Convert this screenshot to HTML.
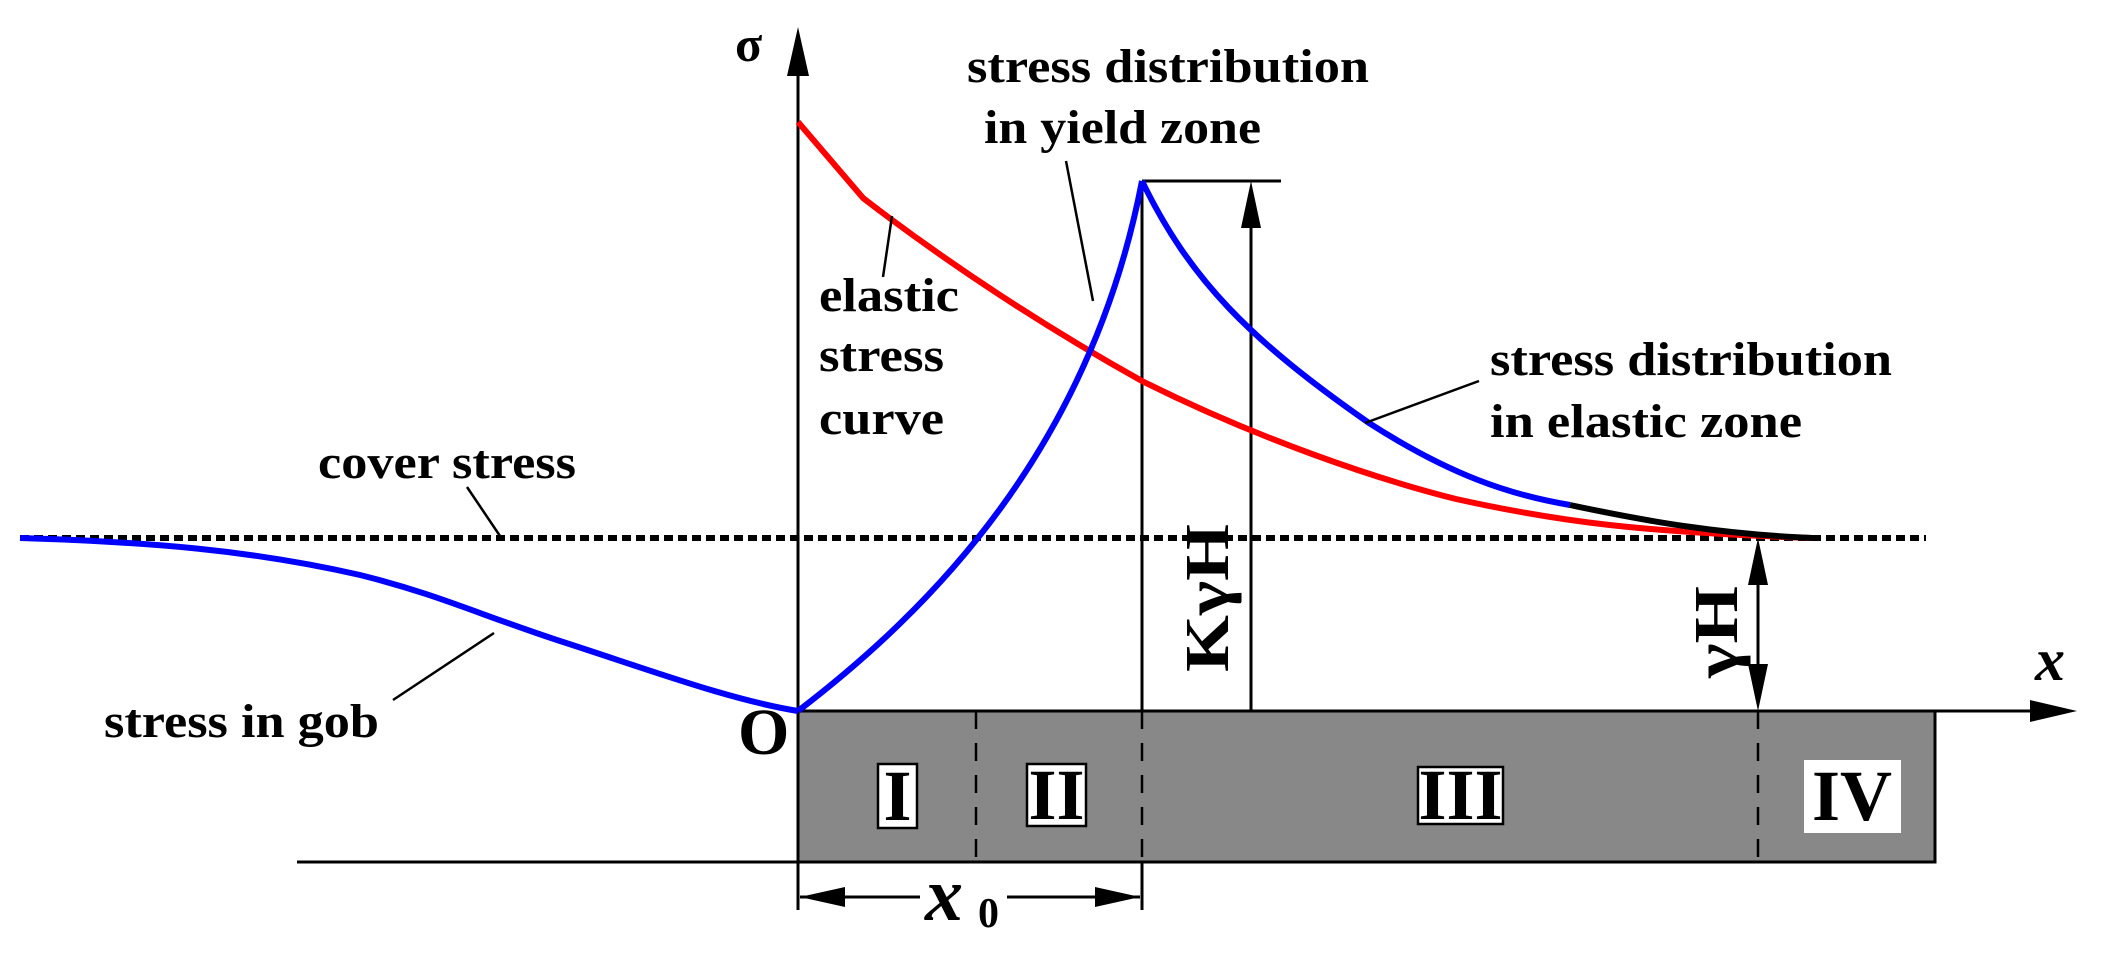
<!DOCTYPE html>
<html><head><style>html,body{margin:0;padding:0;background:#fff}svg{display:block}
text{font-family:"Liberation Serif",serif;font-weight:bold;fill:#000}</style></head>
<body>
<svg width="2106" height="955" viewBox="0 0 2106 955" xmlns="http://www.w3.org/2000/svg">
<rect x="798" y="711" width="1137" height="151" fill="#888" stroke="#000" stroke-width="3"/>
<line x1="297" y1="862" x2="798" y2="862" stroke="#000" stroke-width="3"/>
<g stroke="#000" stroke-width="2.5" stroke-dasharray="18,14">
<line x1="976" y1="711" x2="976" y2="862"/>
<line x1="1142" y1="711" x2="1142" y2="862"/>
<line x1="1758" y1="711" x2="1758" y2="862"/>
</g>
<rect x="878" y="764" width="39" height="64" fill="#fff" stroke="#000" stroke-width="2.5"/>
<text x="897.5" y="820" font-size="72" text-anchor="middle">I</text>
<rect x="1027" y="764" width="59" height="62" fill="#fff" stroke="#000" stroke-width="2.5"/>
<text x="1056.5" y="819" font-size="72" text-anchor="middle">II</text>
<rect x="1418" y="767" width="85" height="57" fill="#fff" stroke="#000" stroke-width="2.5"/>
<text x="1460.5" y="819" font-size="72" text-anchor="middle">III</text>
<rect x="1804" y="760" width="97" height="73" fill="#fff"/>
<text x="1852" y="820" font-size="72" text-anchor="middle">IV</text>
<line x1="798" y1="910" x2="798" y2="60" stroke="#000" stroke-width="3"/>
<polygon points="798,27 787,76 809,76" fill="#000"/>
<line x1="798" y1="711" x2="2040" y2="711" stroke="#000" stroke-width="3"/>
<polygon points="2077,711 2030,700 2030,722" fill="#000"/>
<text x="735" y="61" font-size="50">σ</text>
<text x="738" y="754" font-size="66">O</text>
<text x="2035" y="680" font-size="60" font-style="italic">x</text>
<line x1="800" y1="897" x2="920" y2="897" stroke="#000" stroke-width="3"/>
<line x1="1007" y1="897" x2="1140" y2="897" stroke="#000" stroke-width="3"/>
<polygon points="800,897 845,887 845,907" fill="#000"/>
<polygon points="1140,897 1095,887 1095,907" fill="#000"/>
<line x1="1142" y1="862" x2="1142" y2="910" stroke="#000" stroke-width="3"/>
<text x="925" y="920" font-size="76" font-style="italic">x</text>
<text x="978" y="927" font-size="42" font-weight="normal">0</text>
<line x1="20" y1="538" x2="1926" y2="538" stroke="#000" stroke-width="6" stroke-dasharray="9,5"/>
<line x1="1142" y1="181" x2="1142" y2="711" stroke="#000" stroke-width="3"/>
<line x1="1142" y1="181" x2="1281" y2="181" stroke="#000" stroke-width="3"/>
<line x1="1251" y1="200" x2="1251" y2="711" stroke="#000" stroke-width="3"/>
<polygon points="1251,181 1241,228 1261,228" fill="#000"/>
<text font-size="62" transform="translate(1228,672) rotate(-90)" textLength="148" lengthAdjust="spacingAndGlyphs">KγH</text>
<line x1="1758" y1="560" x2="1758" y2="690" stroke="#000" stroke-width="3"/>
<polygon points="1758,538 1748,585 1768,585" fill="#000"/>
<polygon points="1758,711 1748,664 1768,664" fill="#000"/>
<text font-size="62" transform="translate(1737,678) rotate(-90)" textLength="92" lengthAdjust="spacingAndGlyphs">γH</text>
<path d="M798,122 L863,198 C950,265 1050,330 1142,381 C1260,440 1380,480 1456,499 C1560,522 1640,532 1812,538" fill="none" stroke="#f00" stroke-width="6"/>
<path d="M798,711 C930,610 1090,450 1142,181" fill="none" stroke="#00f" stroke-width="6"/>
<path d="M1142,181 C1190,280 1250,340 1369,423 C1450,475 1510,495 1570,505" fill="none" stroke="#00f" stroke-width="6"/>
<path d="M1570,505 C1650,522 1720,534 1812,538" fill="none" stroke="#000" stroke-width="6"/>
<path d="M20,538 C150,542 250,550 360,575 C440,595 480,615 560,641 C650,670 730,700 798,711" fill="none" stroke="#00f" stroke-width="6"/>
<g stroke="#000" stroke-width="2.5">
<line x1="467" y1="487" x2="500" y2="536"/>
<line x1="393" y1="700" x2="494" y2="633"/>
<line x1="883" y1="277" x2="892" y2="216"/>
<line x1="1066" y1="161" x2="1093" y2="301"/>
<line x1="1479" y1="381" x2="1365" y2="423"/>
</g>
<g font-size="48">
<text x="318" y="478" textLength="258" lengthAdjust="spacingAndGlyphs">cover stress</text>
<text x="104" y="737" textLength="275" lengthAdjust="spacingAndGlyphs">stress in gob</text>
<text x="819" y="311" textLength="140" lengthAdjust="spacingAndGlyphs">elastic</text>
<text x="819" y="371" textLength="125" lengthAdjust="spacingAndGlyphs">stress</text>
<text x="819" y="434" textLength="125" lengthAdjust="spacingAndGlyphs">curve</text>
<text x="967" y="82" textLength="402" lengthAdjust="spacingAndGlyphs">stress distribution</text>
<text x="984" y="143" textLength="277" lengthAdjust="spacingAndGlyphs">in yield zone</text>
<text x="1490" y="375" textLength="402" lengthAdjust="spacingAndGlyphs">stress distribution</text>
<text x="1490" y="437" textLength="312" lengthAdjust="spacingAndGlyphs">in elastic zone</text>
</g>
</svg>
</body></html>
